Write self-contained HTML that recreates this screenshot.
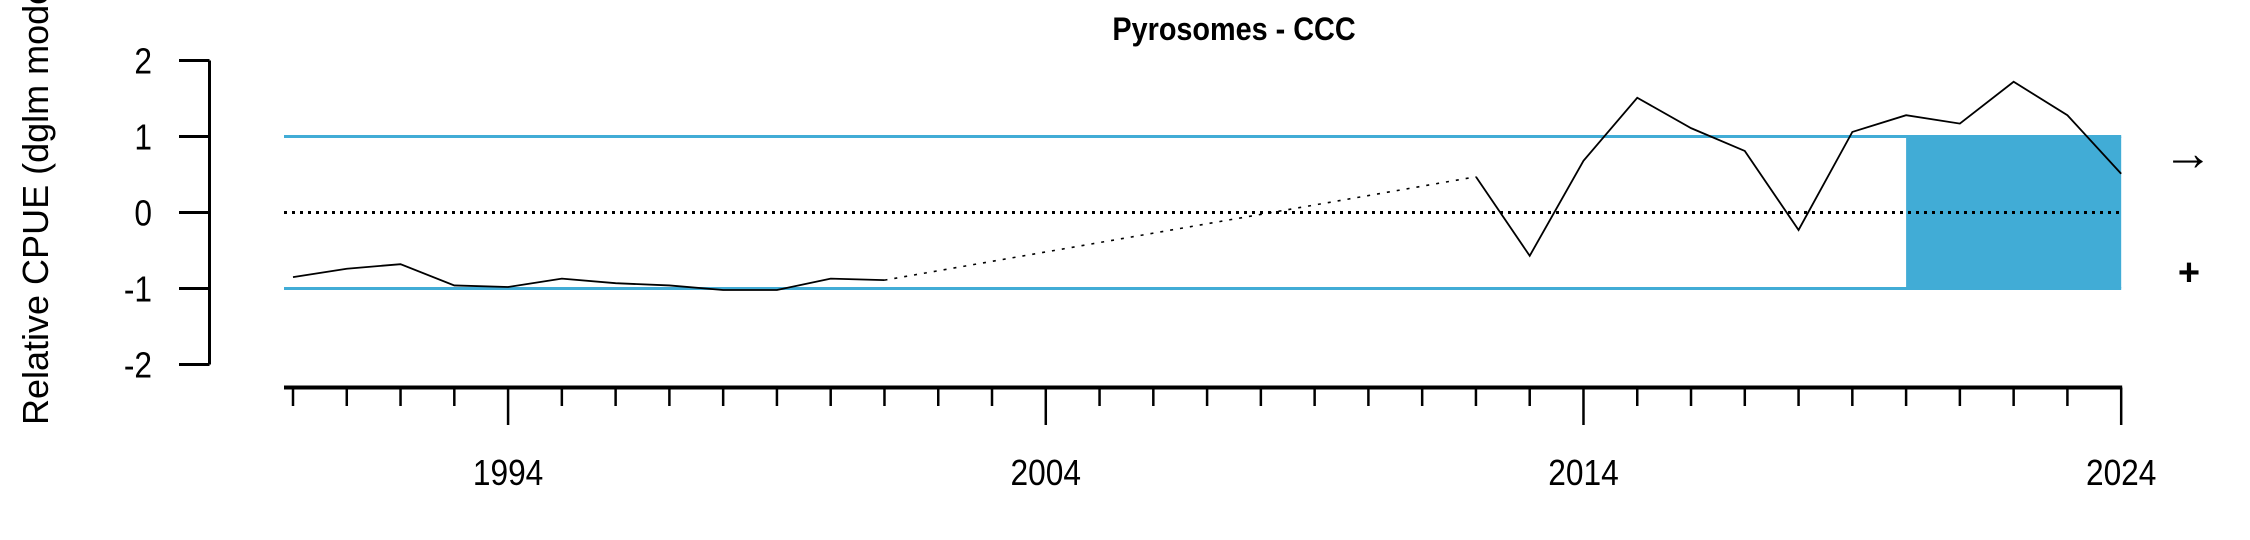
<!DOCTYPE html>
<html><head><meta charset="utf-8">
<style>
html,body{margin:0;padding:0;background:#fff;}
svg{display:block;font-family:"Liberation Sans",sans-serif;}
</style></head>
<body>
<svg id="chart" width="2250" height="540" viewBox="0 0 2250 540" xmlns="http://www.w3.org/2000/svg">
  <text transform="translate(1234,40) scale(0.9,1)" font-size="32" font-weight="bold" text-anchor="middle">Pyrosomes - CCC</text>
  <text transform="translate(48,425) rotate(-90)" font-size="36" text-anchor="start">Relative CPUE (dglm model)</text>
  <g id="plot"></g>
  <text x="2188" y="170" font-size="50" text-anchor="middle">→</text>
  <text x="2189" y="285" font-size="38" font-weight="bold" text-anchor="middle">+</text>
</svg>
<script>
const years = [1990,1991,1992,1993,1994,1995,1996,1997,1998,1999,2000,2001,2002,2003,2004,2005,2006,2007,2008,2009,2010,2011,2012,2013,2014,2015,2016,2017,2018,2019,2020,2021,2022,2023,2024];
const values = [-0.85,-0.74,-0.68,-0.96,-0.98,-0.87,-0.93,-0.96,-1.02,-1.02,-0.87,-0.89,null,null,null,null,null,null,null,null,null,null,0.47,-0.57,0.68,1.51,1.11,0.81,-0.23,1.06,1.28,1.17,1.72,1.28,0.51];
const yTicks = [-2,-1,0,1,2];
const xLabels = [1994,2004,2014,2024];
const meanLine = 0;
const sdUpper = 1;
const sdLower = -1;
const recentStart = 2020;

const NS = "http://www.w3.org/2000/svg";
const g = document.getElementById('plot');
const X = yr => 293 + (yr - 1990) * 53.77;
const Y = v => 212.5 - v * 76;
const xMin = 284, xMax = X(2024);
const axisY = 387.5;
function mk(tag, attrs){const e=document.createElementNS(NS,tag);for(const k in attrs)e.setAttribute(k,attrs[k]);g.appendChild(e);return e;}

let r = mk('rect',{x:X(recentStart),y:Y(sdUpper),width:X(2024)-X(recentStart),height:Y(sdLower)-Y(sdUpper),fill:'#41acd6'});



[[sdUpper,'upper-sd-line'],[sdLower,'lower-sd-line']].forEach(([v,n])=>{
  const l = mk('line',{x1:xMin,x2:xMax,y1:Y(v),y2:Y(v),stroke:'#41acd6','stroke-width':3});
  
  
});
let ml = mk('line',{x1:xMin,x2:xMax,y1:Y(meanLine),y2:Y(meanLine),stroke:'#000','stroke-width':3,'stroke-dasharray':'3 5'});



let segs=[], cur=[], lastPt=null, bridges=[];
years.forEach((yr,i)=>{
  const v = values[i];
  if(v===null){ if(cur.length){segs.push(cur);cur=[];} return; }
  const p=[X(yr),Y(v)];
  if(lastPt && cur.length===0) bridges.push([lastPt,p]);
  cur.push(p); lastPt=p;
});
if(cur.length) segs.push(cur);
bridges.forEach(b=>{
  const l = mk('line',{x1:b[0][0],y1:b[0][1],x2:b[1][0],y2:b[1][1],stroke:'#000','stroke-width':1.6,'stroke-dasharray':'3 7'});
  
  
});
segs.forEach(s=>{
  const p = mk('polyline',{points:s.map(q=>q.join(',')).join(' '),fill:'none',stroke:'#000','stroke-width':1.8});
  
  
});

let ya = mk('line',{x1:209.5,x2:209.5,y1:Y(2),y2:Y(-2),stroke:'#000','stroke-width':3});


yTicks.forEach(t=>{
  const l = mk('line',{x1:179,x2:209.5,y1:Y(t),y2:Y(t),stroke:'#000','stroke-width':3});
  
  
  const tx = mk('text',{transform:`translate(152,${Y(t)+13}) scale(0.88,1)`,'font-size':36,'text-anchor':'end'});
  tx.textContent = String(t);
  
  
});

let xa = mk('line',{x1:xMin,x2:xMax+1,y1:axisY,y2:axisY,stroke:'#000','stroke-width':4});


years.forEach(yr=>{
  const major = xLabels.includes(yr);
  const l = mk('line',{x1:X(yr),x2:X(yr),y1:axisY,y2:major?425:406,stroke:'#000','stroke-width':2.5});
  
  
});
xLabels.forEach(yr=>{
  const tx = mk('text',{transform:`translate(${X(yr)},485) scale(0.88,1)`,'font-size':36,'text-anchor':'middle'});
  tx.textContent = String(yr);
  
  
});
</script>
</body></html>
